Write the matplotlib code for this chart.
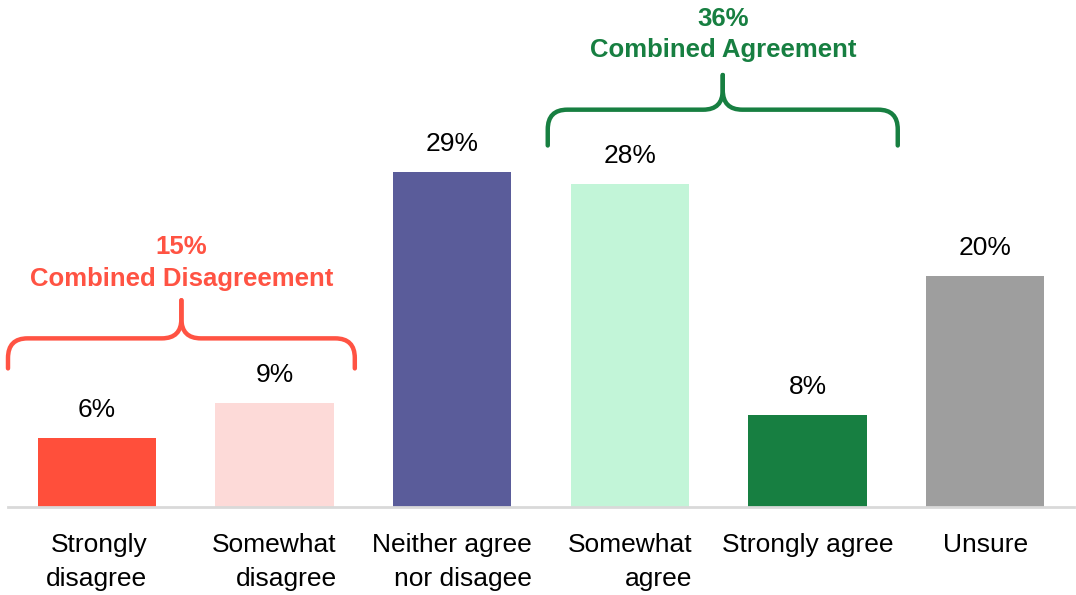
import numpy as np
import matplotlib
matplotlib.use("Agg")
import matplotlib.pyplot as plt
from matplotlib.path import Path
from matplotlib.patches import PathPatch

plt.rcParams["font.family"] = ["Liberation Sans", "DejaVu Sans"]

# Survey data
categories = ["Strongly\ndisagree", "Somewhat\ndisagree", "Neither agree\nnor disagee",
              "Somewhat\nagree", "Strongly agree", "Unsure"]
values = [6, 9, 29, 28, 8, 20]
bar_colors = ["#FF4F3B", "#FDDAD8", "#5A5C9A", "#C2F5D8", "#177F41", "#9E9E9E"]

# Group annotations
group_labels = ["15%\nCombined Disagreement", "36%\nCombined Agreement"]
group_colors = ["#FF5343", "#177F41"]


def draw_brace(ax, x0, x1, ybot, yh, ytip, color, rx=0.11, ry=1.7):
    """Curly brace opening downward, with tip pointing up at the centre."""
    xc = (x0 + x1) / 2
    for side in (x0, x1):
        s = 1 if side < xc else -1
        verts = [
            (side, ybot),
            (side, yh - ry),
            (side, yh),
            (side + s * rx, yh),
            (xc - s * rx, yh),
            (xc, yh),
            (xc, yh + ry),
            (xc, ytip),
        ]
        codes = [Path.MOVETO, Path.LINETO, Path.CURVE3, Path.CURVE3,
                 Path.LINETO, Path.CURVE3, Path.CURVE3, Path.LINETO]
        ax.add_patch(PathPatch(Path(verts, codes), fill=False, edgecolor=color,
                               lw=3.2, capstyle="round", joinstyle="round",
                               clip_on=False))


fig = plt.figure(figsize=(10.76, 5.95), dpi=100)
ax = fig.add_axes([8 / 1076, 88 / 595, 1066 / 1076, 507 / 595])

x = np.arange(len(values))
bars = ax.bar(x, values, width=0.665, color=bar_colors)

for xi, v in zip(x, values):
    ax.annotate(f"{v}%", (xi, v), xytext=(0, 20), textcoords="offset points",
                ha="center", va="center", fontsize=19, color="black")

ax.set_xlim(-0.5, 5.5)
ax.set_ylim(0, 507 / 11.55)
ax.set_xticks(x)
ax.set_xticklabels(categories, fontsize=19, linespacing=1.52, multialignment="right")
ax.tick_params(axis="x", length=0, pad=19)
ax.set_yticks([])
for s in ["top", "right", "left"]:
    ax.spines[s].set_visible(False)
ax.spines["bottom"].set_color("#D9D9D9")
ax.spines["bottom"].set_linewidth(2)

# Brackets
draw_brace(ax, -0.5, 1.452, 12.0, 14.6, 17.9, group_colors[0])
draw_brace(ax, 2.538, 4.508, 31.3, 34.4, 37.4, group_colors[1])

ax.text(0.476, 21.15, group_labels[0], ha="center", va="center", fontsize=18.5,
        fontweight="bold", color=group_colors[0], linespacing=1.4)
ax.text(3.523, 40.9, group_labels[1], ha="center", va="center", fontsize=18.5,
        fontweight="bold", color=group_colors[1], linespacing=1.4)

fig.savefig("out.png", dpi=100)
